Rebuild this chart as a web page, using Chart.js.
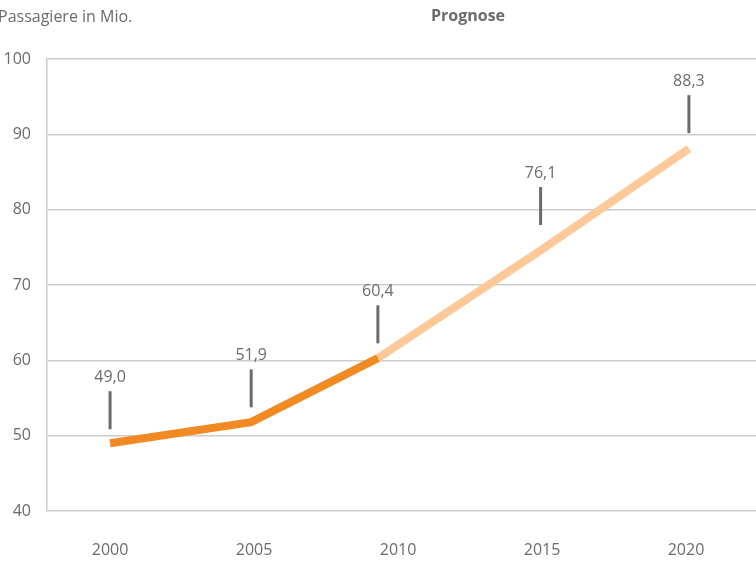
<!DOCTYPE html>
<html>
<head>
<meta charset="utf-8">
<script src="https://cdn.jsdelivr.net/npm/chart.js@4/dist/chart.umd.min.js"></script>
<style>
  html, body { margin: 0; padding: 0; background: #fff; }
  #wrap { width: 756px; height: 563px; }
</style>
</head>
<body>
<div id="wrap"><canvas id="passengerChart"></canvas></div>
<script>
// axis ticks
var xTicks = [2000, 2005, 2010, 2015, 2020];
var yTicks = [40, 50, 60, 70, 80, 90, 100];

// labelled values per year
var labelYears = [2000, 2005, 2010, 2015, 2020];
var labelValues = [49.0, 51.9, 60.4, 76.1, 88.3];

// line as drawn (x in years)
var actualYears = [2000, 2004.9, 2009.3];
var actualValues = [49.0, 51.8, 60.3];
var forecastYears = [2009.3, 2014.95, 2020.1];
var forecastValues = [60.3, 74.6, 88.1];

var textGray = '#6b6b6b';
var fontFamily = '"Open Sans", "Noto Sans", sans-serif';

function points(xs, ys) {
  return xs.map(function (x, i) { return { x: x, y: ys[i] }; });
}

// where each label sits along the drawn line
var labelX = [actualYears[0], actualYears[1], actualYears[2], forecastYears[1], forecastYears[2]];

var decorations = {
  id: 'decorations',
  afterDatasetsDraw: function (chart) {
    var ctx = chart.ctx;
    var xs = chart.scales.x, ys = chart.scales.y;
    ctx.save();
    ctx.strokeStyle = textGray;
    ctx.fillStyle = textGray;
    ctx.lineWidth = 3;
    ctx.font = '16px ' + fontFamily;
    ctx.textAlign = 'center';
    ctx.textBaseline = 'middle';
    labelValues.forEach(function (v, i) {
      var px = xs.getPixelForValue(labelX[i]);
      var py = ys.getPixelForValue(v);
      ctx.beginPath();
      ctx.moveTo(px, py - 14);
      ctx.lineTo(px, py - 52);
      ctx.stroke();
      ctx.fillText(v.toFixed(1).replace('.', ','), px, py - 66);
    });
    ctx.restore();
  },
  afterDraw: function (chart) {
    var ctx = chart.ctx;
    ctx.save();
    ctx.fillStyle = textGray;
    ctx.textBaseline = 'middle';
    ctx.textAlign = 'left';
    ctx.font = '16px ' + fontFamily;
    ctx.fillText('Passagiere in Mio.', -2, 17);
    ctx.textAlign = 'center';
    ctx.font = 'bold 16px ' + fontFamily;
    ctx.fillText('Prognose', 468, 16);
    ctx.restore();
  }
};

new Chart(document.getElementById('passengerChart'), {
  type: 'line',
  data: {
    datasets: [
      {
        label: 'Passagiere',
        data: points(actualYears, actualValues),
        borderColor: '#f28a24',
        borderWidth: 8,
        borderCapStyle: 'butt',
        borderJoinStyle: 'miter',
        pointRadius: 0,
        tension: 0,
        fill: false
      },
      {
        label: 'Prognose',
        data: points(forecastYears, forecastValues),
        borderColor: '#fdc998',
        borderWidth: 8,
        borderCapStyle: 'butt',
        borderJoinStyle: 'miter',
        pointRadius: 0,
        tension: 0,
        fill: false
      }
    ]
  },
  options: {
    responsive: true,
    maintainAspectRatio: false,
    animation: false,
    layout: { padding: { top: 59, right: 0, left: 0, bottom: 0 } },
    plugins: {
      legend: { display: false },
      tooltip: { enabled: false }
    },
    scales: {
      x: {
        type: 'linear',
        min: 1997.81,
        max: 2022.43,
        afterBuildTicks: function (scale) {
          scale.ticks = xTicks.map(function (v) { return { value: v }; });
        },
        afterFit: function (scale) { scale.height = 52; },
        grid: { display: false, drawTicks: false },
        border: { display: false },
        ticks: {
          padding: 30,
          color: textGray,
          font: { family: fontFamily, size: 16 },
          callback: function (v) { return String(v); }
        }
      },
      y: {
        min: 40,
        max: 100,
        afterBuildTicks: function (scale) {
          scale.ticks = yTicks.map(function (v) { return { value: v }; });
        },
        afterFit: function (scale) { scale.width = 47; },
        grid: { color: '#cccccc', lineWidth: 1.5, drawTicks: false },
        border: { display: true, color: '#cccccc', width: 1.5 },
        ticks: {
          padding: 16,
          color: textGray,
          font: { family: fontFamily, size: 16 }
        }
      }
    }
  },
  plugins: [decorations]
});
</script>
</body>
</html>
